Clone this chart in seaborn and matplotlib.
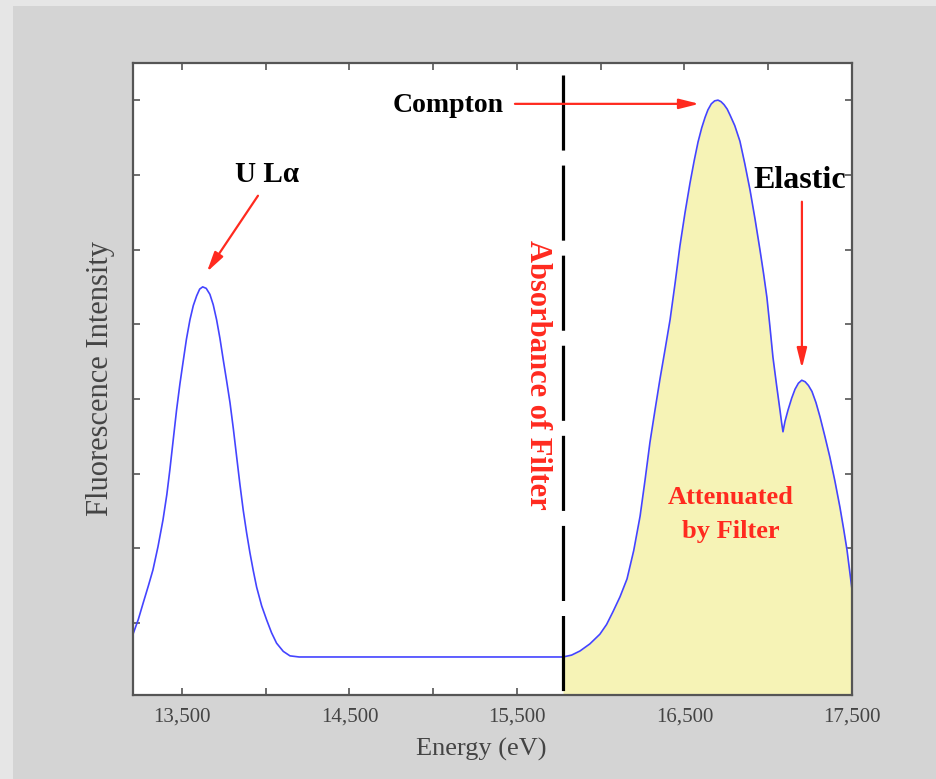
import numpy as np
import pandas as pd
import matplotlib
matplotlib.use("Agg")
import matplotlib.pyplot as plt
from matplotlib.patches import Rectangle
import seaborn as sns

# ---- data ----
energy_ev = [13208, 13240, 13269, 13300, 13327, 13357, 13387, 13410, 13428, 13448,
             13468, 13488, 13506, 13527, 13548, 13568, 13588, 13606, 13624, 13645,
             13667, 13687, 13707, 13727, 13747, 13767, 13787, 13807, 13827, 13846,
             13866, 13886, 13906, 13926, 13946, 13976, 14006, 14035, 14065, 14105,
             14145, 14200, 14500, 15000, 15500, 15775,
             15826, 15876, 15935, 15995, 16035, 16073, 16115, 16157, 16197, 16235,
             16265, 16294, 16324, 16354, 16384, 16414, 16444, 16473, 16503, 16533,
             16558, 16581, 16603, 16623, 16640, 16660, 16680, 16700, 16718, 16736,
             16755, 16772, 16800, 16831, 16860, 16891, 16921, 16951, 16972, 16992,
             17010, 17028, 17050, 17070, 17080, 17088, 17100, 17118, 17140, 17160,
             17180, 17200, 17220, 17240, 17261, 17285, 17309, 17338, 17368, 17398,
             17428, 17450, 17470, 17500]
intensity = [0.85, 1.05, 1.27, 1.50, 1.71, 2.02, 2.38, 2.72, 3.05, 3.45,
             3.85, 4.20, 4.48, 4.80, 5.06, 5.25, 5.38, 5.47, 5.50, 5.48,
             5.40, 5.26, 5.06, 4.81, 4.52, 4.24, 3.95, 3.60, 3.22, 2.86,
             2.51, 2.21, 1.94, 1.70, 1.48, 1.23, 1.04, 0.87, 0.73, 0.62,
             0.56, 0.545, 0.545, 0.545, 0.545, 0.545,
             0.57, 0.625, 0.72, 0.85, 0.98, 1.15, 1.35, 1.59, 1.97, 2.43,
             2.92, 3.42, 3.85, 4.27, 4.66, 5.06, 5.55, 6.05, 6.49, 6.89,
             7.19, 7.44, 7.63, 7.77, 7.87, 7.95, 7.99, 8.00, 7.98, 7.94,
             7.88, 7.80, 7.66, 7.45, 7.15, 6.80, 6.41, 5.99, 5.68, 5.36,
             4.97, 4.56, 4.18, 3.85, 3.68, 3.56, 3.70, 3.85, 4.01, 4.13,
             4.21, 4.25, 4.23, 4.18, 4.10, 3.95, 3.76, 3.50, 3.22, 2.90,
             2.55, 2.26, 1.98, 1.45]
filter_edge_ev = 15775
xtick_major = [13500, 14500, 15500, 16500, 17500]
xtick_labels = ["13,500", "14,500", "15,500", "16,500", "17,500"]
xtick_minor = [14000, 15000, 16000, 17000]
ytick_vals = [1, 2, 3, 4, 5, 6, 7, 8]

df = pd.DataFrame({"Energy": energy_ev, "Intensity": intensity})

sns.set_style("ticks")
plt.rcParams["font.family"] = ["Liberation Serif", "DejaVu Serif"]

W, H = 936, 779
fig = plt.figure(figsize=(W / 100, H / 100), dpi=100, facecolor="#e6e6e6")
fig.patches.append(Rectangle((13 / W, 0), 1, 1 - 6 / H, transform=fig.transFigure,
                             facecolor="#d4d4d4", edgecolor="none", zorder=-10))
ax = fig.add_axes([133 / W, 1 - 695 / H, (852 - 133) / W, (695 - 63) / H])
ax.set_facecolor("white")

ymin, ymax = 0.036, 8.497
ax.set_xlim(13208, 17500)
ax.set_ylim(ymin, ymax)

# filled attenuated region
mask = df["Energy"] >= filter_edge_ev
ax.fill_between(df.loc[mask, "Energy"], df.loc[mask, "Intensity"], ymin,
                color="#f6f3b6", linewidth=0, zorder=1)

sns.lineplot(data=df, x="Energy", y="Intensity", ax=ax, color="#4444ff",
             linewidth=1.2, zorder=3)

# dashed filter line
ax.plot([filter_edge_ev, filter_edge_ev], [8.336, ymin], color="black",
        linewidth=2.3, dashes=(23.5, 4.7), zorder=4, solid_capstyle="butt",
        dash_capstyle="butt")

# axes styling
for s in ax.spines.values():
    s.set_color("#555555")
    s.set_linewidth(1.6)
    s.set_zorder(6)
ax.set_xticks(xtick_major)
ax.set_xticklabels(xtick_labels)
ax.set_xticks(xtick_minor, minor=True)
ax.set_yticks(ytick_vals)
ax.set_yticklabels([])
ax.tick_params(which="both", direction="in", length=5, width=1.2, color="#555555",
               top=True, right=True, labelsize=15, labelcolor="#444444", pad=9)

ax.set_xlabel("Energy (eV)", fontsize=19, color="#444444")
ax.set_ylabel("Fluorescence Intensity", fontsize=22, color="#444444")
ax.xaxis.set_label_coords(0.485, -0.068)
ax.yaxis.set_label_coords(-0.025, 0.5)

red = "#ff2a1f"
bold = dict(fontweight="bold")
head = "-|>,head_length=1.2,head_width=0.3"
ax.text(14007, 7.0, "U Lα", ha="center", va="center", fontsize=21, color="black", **bold)
ax.annotate("", xy=(13649, 5.70), xytext=(13954, 6.72),
            arrowprops=dict(arrowstyle=head, color=red, lw=1.6, shrinkA=0, shrinkB=0),
            zorder=7)

ax.text(15088, 7.93, "Compton", ha="center", va="center", fontsize=20, color="black", **bold)
ax.annotate("", xy=(16588, 7.95), xytext=(15488, 7.95),
            arrowprops=dict(arrowstyle=head, color=red, lw=1.6, shrinkA=0, shrinkB=0),
            zorder=7)

ax.text(17190, 6.92, "Elastic", ha="center", va="center", fontsize=23, color="black", **bold)
ax.annotate("", xy=(17201, 4.41), xytext=(17201, 6.64),
            arrowprops=dict(arrowstyle=head, color=red, lw=1.6, shrinkA=0, shrinkB=0),
            zorder=7)

ax.text(15620, 4.32, "Absorbance of Filter", ha="center", va="center", rotation=-90,
        fontsize=22, color=red, **bold)
ax.text(16778, 2.45, "Attenuated\nby Filter", ha="center", va="center",
        fontsize=19, color=red, linespacing=1.6, **bold)

fig.savefig("out.png", dpi=100, facecolor=fig.get_facecolor())
